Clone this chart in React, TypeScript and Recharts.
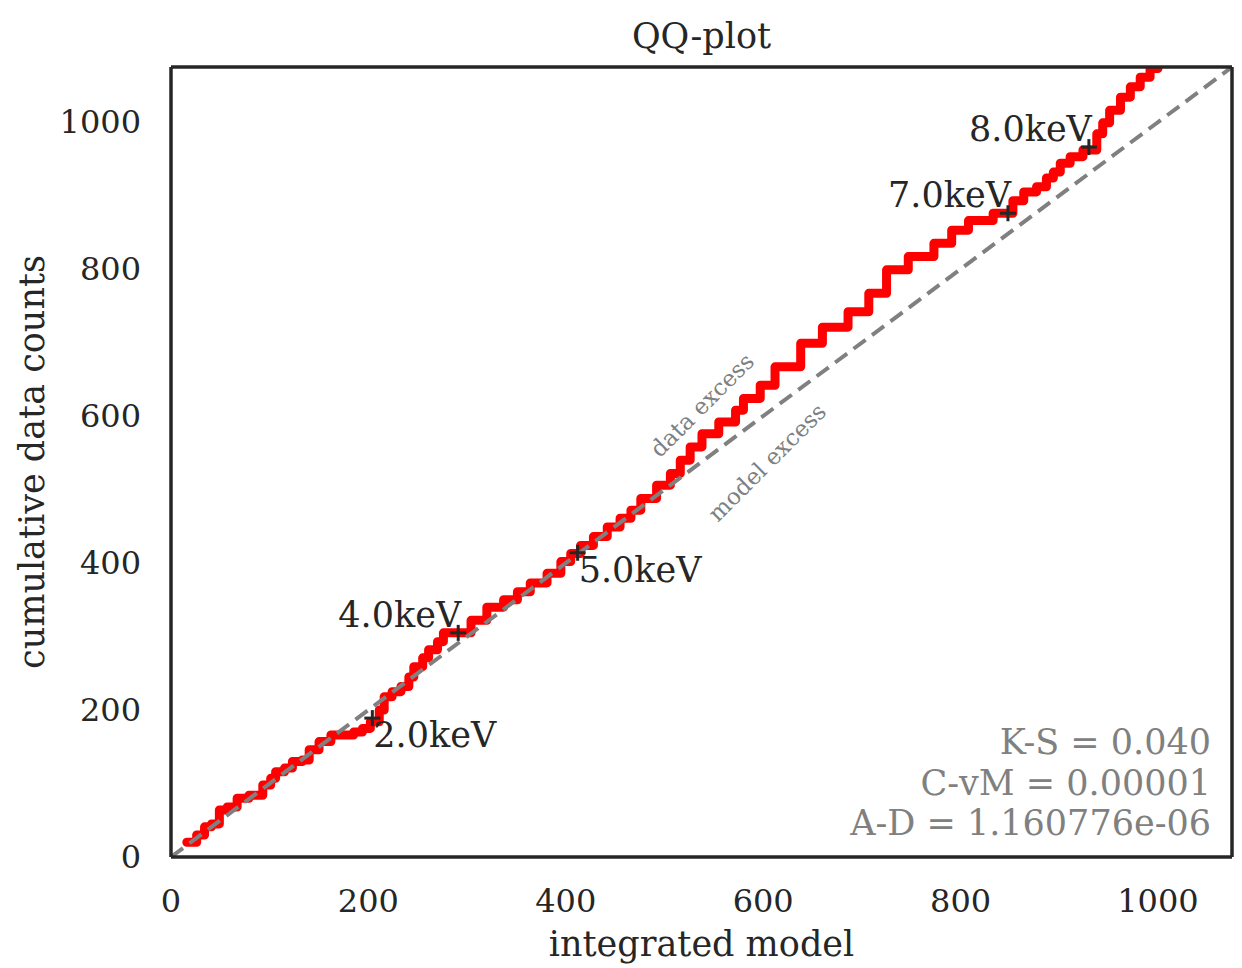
import React from 'react';
import { ComposedChart, Line, XAxis, YAxis, ReferenceDot, ReferenceLine } from 'recharts';

// integrated model (x) vs cumulative data counts (y)
const modelCounts = [
    16, 26, 34, 41, 49, 57, 67, 79, 93, 101,
    106, 115, 123, 133, 140, 150, 162, 175, 185, 194,
    202, 211, 216, 224, 233, 241, 246, 255, 261, 270,
    276, 290, 304, 320, 337, 351, 364, 381, 395, 405,
    415, 428, 442, 455, 466, 476, 492, 506, 516, 526,
    538, 555, 572, 580, 597, 612, 638, 660, 686, 707,
    725, 747, 773, 791, 808, 833, 853, 864, 877, 887,
    894, 901, 911, 924, 938, 944, 951, 962, 972, 982,
    992, 1000,
];
const dataCounts = [
    20, 30, 41, 45, 64, 68, 80, 84, 98, 107,
    116, 121, 130, 132, 146, 157, 166, 166, 170, 175,
    184, 200, 218, 225, 232, 245, 259, 271, 282, 293,
    305, 305, 322, 340, 350, 361, 373, 386, 402, 413,
    424, 436, 449, 461, 472, 488, 506, 522, 540, 558,
    576, 592, 608, 624, 642, 667, 699, 721, 742, 767,
    799, 817, 835, 853, 866, 876, 893, 905, 912, 924,
    932, 944, 953, 962, 984, 999, 1016, 1034, 1048, 1061,
    1073, 1082,
];

const diagonalEnds = [0, 1075];

const energyNames = ['2.0keV', '4.0keV', '5.0keV', '7.0keV', '8.0keV'];
const energyModel = [204, 291, 412, 848, 930];
const energyData = [189, 305, 414, 876, 966];

const axisTicks = [0, 200, 400, 600, 800, 1000];
const statLines = ['K-S = 0.040', 'C-vM = 0.00001', 'A-D = 1.160776e-06'];

const noteNames = ['data excess', 'model excess'];
const noteModel = [538, 604];
const noteData = [615, 537];

const AXIS_MAX = 1075;
const FONT = '"DejaVu Serif", serif';
const INK = '#262626';
const GREY = '#808080';
// labels that sit below-right of their marker, the rest go above-left
const BELOW_RIGHT = ['2.0keV', '5.0keV'];

const curve = modelCounts.map((x, i) => ({ x, y: dataCounts[i] }));
const diagonal = diagonalEnds.map(v => ({ x: v, y: v }));

const EnergyMark = ({ cx, cy, name }: any) => {
    const below = BELOW_RIGHT.includes(name);
    return (
        <g>
            <line x1={cx - 8} x2={cx + 8} y1={cy} y2={cy} stroke={INK} strokeWidth={3} />
            <line x1={cx} x2={cx} y1={cy - 8} y2={cy + 8} stroke={INK} strokeWidth={3} />
            <text
                x={below ? cx + 1 : cx + 3}
                y={below ? cy + 29 : cy - 6}
                textAnchor={below ? 'start' : 'end'}
                fontSize={35}
                fontFamily={FONT}
                fill={INK}
            >
                {name}
            </text>
        </g>
    );
};

const NoteText = ({ cx, cy, name }: any) => (
    <text
        x={cx}
        y={cy}
        transform={`rotate(-45 ${cx} ${cy})`}
        textAnchor="middle"
        dominantBaseline="central"
        fontSize={23}
        fontFamily={FONT}
        fill={GREY}
    >
        {name}
    </text>
);

const App: React.FC = () => {
    const tickStyle = { fontSize: 32, fill: INK, fontFamily: FONT };
    const spine = { stroke: INK, strokeWidth: 3.5 };

    return (
        <div style={{ position: 'relative', width: 1242, height: 968 }}>
            <style>{'body{margin:0}'}</style>
            <ComposedChart width={1242} height={968} margin={{ top: 67, right: 10, bottom: 0, left: 0 }}>
                <XAxis
                    type="number"
                    dataKey="x"
                    domain={[0, AXIS_MAX]}
                    allowDataOverflow
                    ticks={axisTicks}
                    tick={tickStyle}
                    tickLine={false}
                    tickSize={0}
                    tickMargin={32}
                    axisLine={spine}
                    height={111}
                />
                <YAxis
                    type="number"
                    dataKey="y"
                    domain={[0, AXIS_MAX]}
                    allowDataOverflow
                    ticks={axisTicks}
                    tick={tickStyle}
                    tickLine={false}
                    tickSize={0}
                    tickMargin={30}
                    axisLine={spine}
                    width={171}
                />

                <Line
                    data={curve}
                    dataKey="y"
                    type="stepAfter"
                    stroke="#ff0000"
                    strokeWidth={9}
                    strokeLinejoin="round"
                    strokeLinecap="round"
                    dot={false}
                    isAnimationActive={false}
                />
                <Line
                    data={diagonal}
                    dataKey="y"
                    type="linear"
                    stroke={GREY}
                    strokeWidth={4}
                    strokeDasharray="15 8"
                    dot={false}
                    isAnimationActive={false}
                />

                {/* top and right spines */}
                <ReferenceLine y={AXIS_MAX} stroke={INK} strokeWidth={3.5} />
                <ReferenceLine x={AXIS_MAX} stroke={INK} strokeWidth={3.5} />

                {noteNames.map((name, i) => (
                    <ReferenceDot
                        key={name}
                        x={noteModel[i]}
                        y={noteData[i]}
                        r={0}
                        shape={(p: any) => <NoteText cx={p.cx} cy={p.cy} name={name} />}
                    />
                ))}
                {energyNames.map((name, i) => (
                    <ReferenceDot
                        key={name}
                        x={energyModel[i]}
                        y={energyData[i]}
                        r={8}
                        shape={(p: any) => <EnergyMark cx={p.cx} cy={p.cy} name={name} />}
                    />
                ))}
            </ComposedChart>

            <svg
                width={1242}
                height={968}
                style={{ position: 'absolute', left: 0, top: 0, pointerEvents: 'none' }}
                fontFamily={FONT}
            >
                <text x={701.5} y={48} textAnchor="middle" fontSize={35} fill={INK}>QQ-plot</text>
                <text x={701.5} y={956} textAnchor="middle" fontSize={35} fill={INK}>integrated model</text>
                <text x={44} y={462} transform="rotate(-90 44 462)" textAnchor="middle" fontSize={35} fill={INK}>
                    cumulative data counts
                </text>
                {statLines.map((s, i) => (
                    <text key={s} x={1211} y={754 + i * 40.5} textAnchor="end" fontSize={35} fill={GREY}>{s}</text>
                ))}
            </svg>
        </div>
    );
};

export default App;
